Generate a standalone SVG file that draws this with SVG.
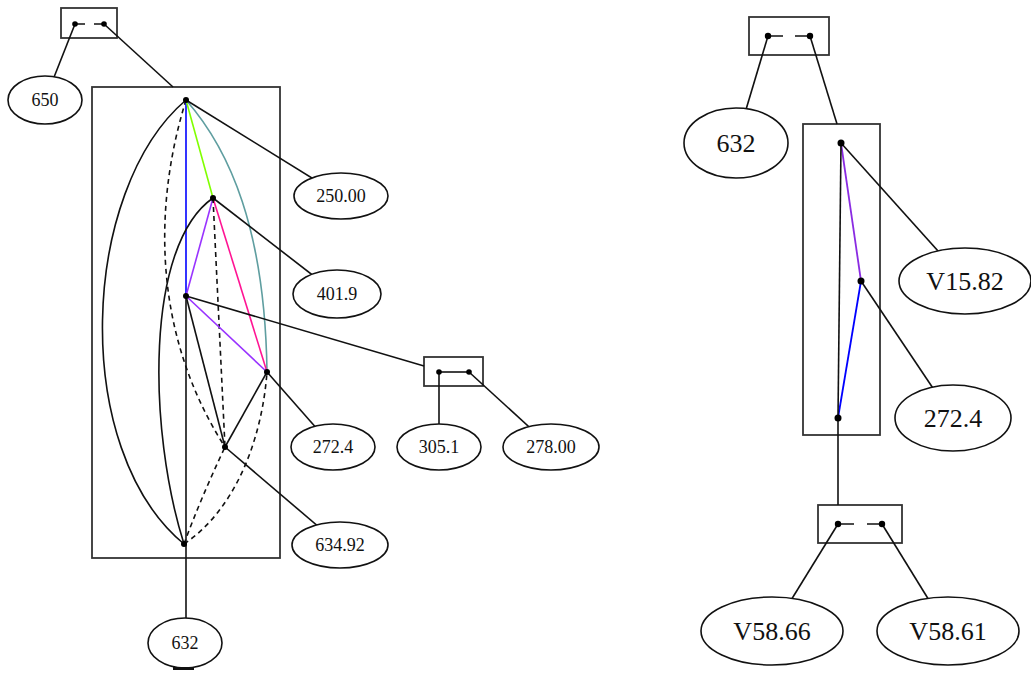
<svg xmlns="http://www.w3.org/2000/svg" width="1031" height="675" viewBox="0 0 1031 675">
<style>
.cl{fill:none;stroke:#333;stroke-width:1.8}
.e{fill:#fff;stroke:#111;stroke-width:1.6}
.l{fill:none;stroke:#111;stroke-width:1.6}
.d{fill:none;stroke:#111;stroke-width:1.6;stroke-dasharray:5,4}
.dot{fill:#000}
.t{font-family:"Liberation Serif","Times New Roman",serif;fill:#111;text-anchor:middle;dominant-baseline:central}
.s{font-size:18px}
.b{font-size:26px}
</style>
<rect width="1031" height="675" fill="#fff"/>
<g id="clusters">
<rect class="cl" x="61" y="8" width="56" height="30"/>
<rect class="cl" x="92" y="87" width="188" height="471"/>
<rect class="cl" x="424" y="357" width="59" height="29"/>
<rect class="cl" x="749" y="17" width="80" height="38"/>
<rect class="cl" x="803" y="124" width="77" height="311"/>
<rect class="cl" x="818" y="505" width="84" height="38"/>
</g>
<g id="connectors">
<line class="l" x1="75" y1="24" x2="104" y2="24" stroke-dasharray="10,9"/>
<line class="l" x1="75" y1="24" x2="45" y2="100"/>
<line class="l" x1="104" y1="24" x2="173" y2="87"/>
<path class="l" d="M186,100 C80,190 70,450 184,544"/>
<path class="d" d="M186,100 C155,200 150,330 225,447"/>
<line x1="186" y1="100" x2="186" y2="296" stroke="#0000ff" stroke-width="1.6"/>
<line x1="186" y1="100" x2="213" y2="198" stroke="#80ff00" stroke-width="1.6"/>
<path d="M186,100 C230,150 265,230 267,372" fill="none" stroke="#5f9ea0" stroke-width="1.6"/>
<line class="l" x1="186" y1="100" x2="341" y2="196"/>
<line x1="213" y1="198" x2="186" y2="296" stroke="#9933ff" stroke-width="1.6"/>
<line x1="213" y1="198" x2="267" y2="372" stroke="#ff1493" stroke-width="1.6"/>
<line class="d" x1="213" y1="198" x2="225" y2="447"/>
<path class="l" d="M213,198 C145,245 148,430 184,544"/>
<line class="l" x1="213" y1="198" x2="337" y2="294"/>
<line x1="186" y1="296" x2="267" y2="372" stroke="#9933ff" stroke-width="1.6"/>
<line class="l" x1="186" y1="296" x2="186" y2="643"/>
<line class="l" x1="186" y1="296" x2="225" y2="447"/>
<line class="l" x1="186" y1="296" x2="424" y2="366"/>
<line class="l" x1="267" y1="372" x2="225" y2="447"/>
<line class="l" x1="267" y1="372" x2="333" y2="447"/>
<path class="d" d="M184,544 C235,510 262,440 267,372"/>
<path class="d" d="M184,544 Q200,500 225,447"/>
<line class="l" x1="225" y1="447" x2="340" y2="545"/>
<line class="l" x1="439" y1="372" x2="469" y2="372"/>
<line class="l" x1="439" y1="372" x2="439" y2="447"/>
<line class="l" x1="469" y1="372" x2="551" y2="447"/>
<line class="l" x1="768" y1="36" x2="810" y2="36" stroke-dasharray="15,12"/>
<line class="l" x1="768" y1="36" x2="736" y2="143"/>
<line class="l" x1="810" y1="36" x2="837" y2="124"/>
<line x1="841" y1="143" x2="861" y2="281" stroke="#8a2be2" stroke-width="1.8"/>
<line x1="861" y1="281" x2="838" y2="418" stroke="#0000ff" stroke-width="1.8"/>
<line class="l" x1="841" y1="143" x2="838" y2="418"/>
<line class="l" x1="841" y1="143" x2="965" y2="281"/>
<line class="l" x1="861" y1="281" x2="953" y2="418"/>
<line class="l" x1="838" y1="418" x2="838" y2="505"/>
<line class="l" x1="838" y1="524" x2="882" y2="524" stroke-dasharray="16,13"/>
<line class="l" x1="838" y1="524" x2="772" y2="631"/>
<line class="l" x1="882" y1="524" x2="948" y2="631"/>
</g>
<g id="dots">
<circle class="dot" cx="75" cy="24" r="2.8"/>
<circle class="dot" cx="104" cy="24" r="2.8"/>
<circle class="dot" cx="186" cy="100" r="3"/>
<circle class="dot" cx="213" cy="198" r="3"/>
<circle class="dot" cx="186" cy="296" r="3"/>
<circle class="dot" cx="267" cy="372" r="3"/>
<circle class="dot" cx="225" cy="447" r="3"/>
<circle class="dot" cx="184" cy="544" r="3"/>
<circle class="dot" cx="439" cy="372" r="2.8"/>
<circle class="dot" cx="469" cy="372" r="2.8"/>
<circle class="dot" cx="768" cy="36" r="3.2"/>
<circle class="dot" cx="810" cy="36" r="3.2"/>
<circle class="dot" cx="841" cy="143" r="3.5"/>
<circle class="dot" cx="861" cy="281" r="3.5"/>
<circle class="dot" cx="838" cy="418" r="3.5"/>
<circle class="dot" cx="838" cy="524" r="3.2"/>
<circle class="dot" cx="882" cy="524" r="3.2"/>
</g>
<g id="n650"><ellipse class="e" cx="45" cy="100" rx="37" ry="24"/><text class="t s" x="45" y="100">650</text></g>
<g id="n250"><ellipse class="e" cx="341" cy="196" rx="47" ry="23"/><text class="t s" x="341" y="196">250.00</text></g>
<g id="n4019"><ellipse class="e" cx="337" cy="294" rx="44" ry="24"/><text class="t s" x="337" y="294">401.9</text></g>
<g id="n2724a"><ellipse class="e" cx="333" cy="447" rx="42" ry="23"/><text class="t s" x="333" y="447">272.4</text></g>
<g id="n3051"><ellipse class="e" cx="439" cy="447" rx="42" ry="23"/><text class="t s" x="439" y="447">305.1</text></g>
<g id="n278"><ellipse class="e" cx="551" cy="447" rx="48" ry="23"/><text class="t s" x="551" y="447">278.00</text></g>
<g id="n63492"><ellipse class="e" cx="340" cy="545" rx="48" ry="23"/><text class="t s" x="340" y="545">634.92</text></g>
<g id="n632a"><ellipse class="e" cx="185" cy="643" rx="37" ry="25"/><text class="t s" x="185" y="643">632</text><rect x="173" y="667" width="21" height="3" fill="#111"/></g>
<g id="n632b"><ellipse class="e" cx="736" cy="143" rx="52" ry="35"/><text class="t b" x="736" y="143">632</text></g>
<g id="nV1582"><ellipse class="e" cx="965" cy="281" rx="66" ry="33"/><text class="t b" x="965" y="281">V15.82</text></g>
<g id="n2724b"><ellipse class="e" cx="953" cy="418" rx="58" ry="33"/><text class="t b" x="953" y="418">272.4</text></g>
<g id="nV5866"><ellipse class="e" cx="772" cy="631" rx="71" ry="34"/><text class="t b" x="772" y="631">V58.66</text></g>
<g id="nV5861"><ellipse class="e" cx="948" cy="631" rx="71" ry="34"/><text class="t b" x="948" y="631">V58.61</text></g>
</svg>
